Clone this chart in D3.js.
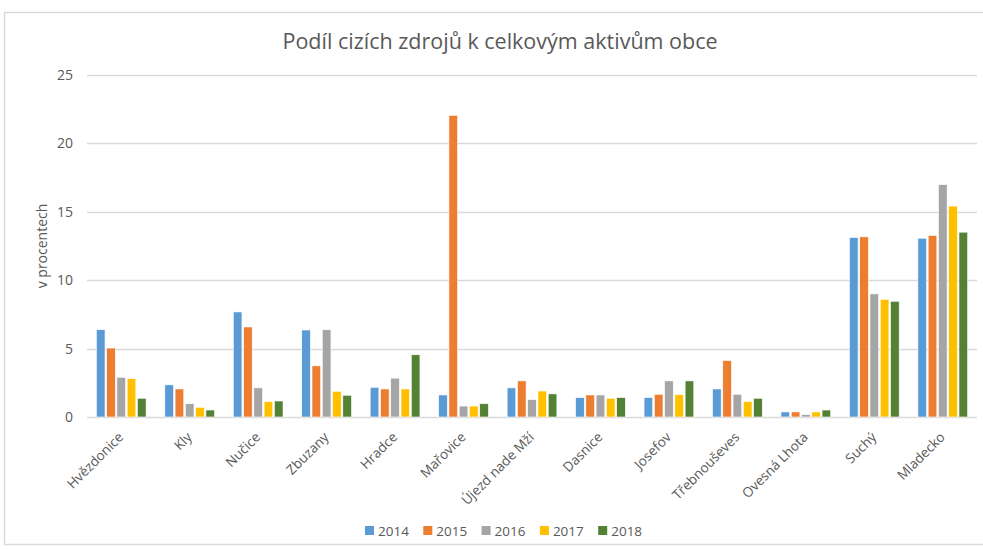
<!DOCTYPE html>
<html>
<head>
<meta charset="utf-8">
<script src="https://cdn.jsdelivr.net/npm/d3@7"></script>
<style>
  html, body { margin: 0; padding: 0; background: #fff; }
  svg { display: block; }
</style>
</head>
<body>
<svg id="chart" width="983" height="549"></svg>
<script>
const categories = ["Hvězdonice", "Kly", "Nučice", "Zbuzany", "Hradce", "Mařovice", "Újezd nade Mží", "Dasnice", "Josefov", "Třebnouševes", "Ovesná Lhota", "Suchý", "Mladecko"];
const seriesNames = ["2014", "2015", "2016", "2017", "2018"];
const v2014 = [6.38, 2.35, 7.68, 6.36, 2.17, 1.61, 2.13, 1.42, 1.42, 2.05, 0.37, 13.12, 13.07];
const v2015 = [5.04, 2.05, 6.58, 3.74, 2.05, 22.05, 2.64, 1.61, 1.66, 4.13, 0.37, 13.17, 13.27];
const v2016 = [2.90, 0.97, 2.13, 6.38, 2.84, 0.80, 1.27, 1.61, 2.64, 1.66, 0.17, 9.00, 16.98];
const v2017 = [2.80, 0.71, 1.12, 1.88, 2.05, 0.80, 1.90, 1.37, 1.64, 1.12, 0.37, 8.60, 15.42];
const v2018 = [1.37, 0.51, 1.17, 1.59, 4.55, 0.97, 1.69, 1.42, 2.64, 1.37, 0.51, 8.46, 13.51];
const yTicks = [0, 5, 10, 15, 20, 25];
const colors = ["#5B9BD5", "#ED7D31", "#A5A5A5", "#FFC000", "#548235"];
const seriesValues = [v2014, v2015, v2016, v2017, v2018];

const title = "Podíl cizích zdrojů k celkovým aktivům obce";
const yTitle = "v procentech";
const FONT = "'Open Sans', 'DejaVu Sans', sans-serif";
const TEXT = "#595959";

const svg = d3.select("#chart");

// outer chart border
svg.append("rect")
  .attr("x", 4.5).attr("y", 12.5)
  .attr("width", 990).attr("height", 532)
  .attr("fill", "#fff").attr("stroke", "#d9d9d9").attr("stroke-width", 1.5);

const plot = { left: 87, right: 977, top: 75, bottom: 417 };

const y = d3.scaleLinear().domain([0, 25]).range([plot.bottom, plot.top]);
const x0 = d3.scaleBand().domain(categories).range([plot.left, plot.right])
  .paddingInner(0.25).paddingOuter(0.125);
const x1 = d3.scaleBand().domain(seriesNames).range([0, x0.bandwidth()]);

// gridlines
svg.append("g").selectAll("line").data(yTicks).join("line")
  .attr("x1", plot.left).attr("x2", plot.right)
  .attr("y1", d => Math.round(y(d)) + 0.5).attr("y2", d => Math.round(y(d)) + 0.5)
  .attr("stroke", "#d9d9d9").attr("stroke-width", 1.3);

// y axis labels
const yAxis = d3.axisLeft(y).tickValues(yTicks).tickSize(0).tickPadding(0);
const gy = svg.append("g").attr("transform", `translate(${plot.left - 14},0)`).call(yAxis);
gy.select(".domain").remove();
gy.selectAll("text").attr("fill", TEXT).style("font-family", FONT).style("font-size", "14px");

// bars
const groups = svg.append("g").selectAll("g").data(categories).join("g")
  .attr("transform", d => `translate(${x0(d)},0)`);
groups.selectAll("rect")
  .data((c, i) => seriesNames.map((s, k) => ({ s, k, v: seriesValues[k][i] })))
  .join("rect")
  .attr("x", d => x1(d.s) + 0.8)
  .attr("width", x1.bandwidth() - 1.6)
  .attr("y", d => y(d.v))
  .attr("height", d => y(0) - y(d.v))
  .attr("fill", d => colors[d.k])
  .attr("stroke", "#fff").attr("stroke-width", 0.6);

// x axis labels
const xAxis = d3.axisBottom(x0).tickSize(0).tickPadding(0);
const gx = svg.append("g").attr("transform", `translate(0,${plot.bottom})`).call(xAxis);
gx.select(".domain").remove();
gx.selectAll("text")
  .attr("fill", TEXT).style("font-family", FONT).style("font-size", "13.5px")
  .attr("text-anchor", "end")
  .attr("y", 0).attr("dy", "0")
  .attr("transform", "translate(3,21) rotate(-45)");

// title
svg.append("text").attr("x", 500).attr("y", 49)
  .attr("text-anchor", "middle").attr("fill", TEXT)
  .style("font-family", FONT).style("font-size", "21.5px")
  .text(title);

// y title
svg.append("text")
  .attr("transform", `translate(47,${(plot.top + plot.bottom) / 2}) rotate(-90)`)
  .attr("text-anchor", "middle").attr("fill", TEXT)
  .style("font-family", FONT).style("font-size", "14px")
  .text(yTitle);

// legend
const lg = svg.append("g").selectAll("g").data(seriesNames).join("g")
  .attr("transform", (d, i) => `translate(${365 + i * 58.3},531)`);
lg.append("rect").attr("x", 0).attr("y", -5).attr("width", 9).attr("height", 9)
  .attr("fill", (d, i) => colors[i]);
lg.append("text").attr("x", 13).attr("y", 0).attr("dy", "0.35em")
  .attr("fill", TEXT).style("font-family", FONT).style("font-size", "13.5px")
  .text(d => d);
</script>
</body>
</html>
